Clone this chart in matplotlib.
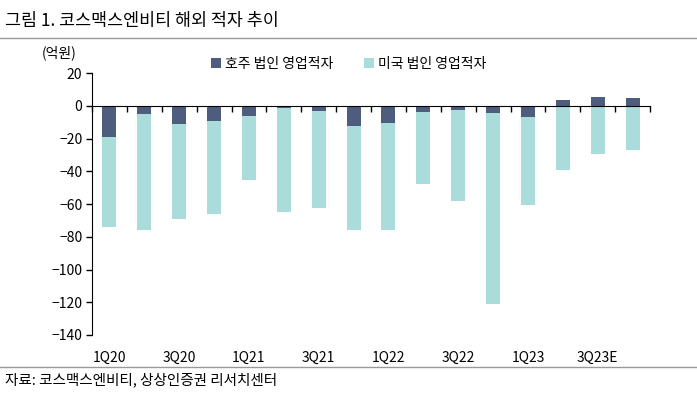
import matplotlib
matplotlib.use("Agg")
import numpy as np
from matplotlib import pyplot as plt
from matplotlib.lines import Line2D

plt.rcParams['font.family'] = ['Noto Sans CJK KR', 'DejaVu Sans']

quarters = ['1Q20', '2Q20', '3Q20', '4Q20', '1Q21', '2Q21', '3Q21', '4Q21',
            '1Q22', '2Q22', '3Q22', '4Q22', '1Q23', '2Q23', '3Q23E', '4Q23E']
australia = [-19, -5, -11, -9, -6, -1, -3, -12, -10.5, -3.7, -2.5, -4.3, -7, 3.9, 5.6, 4.7]
usa = [-54.7, -71, -58.3, -57, -39, -63.8, -59.6, -64, -65.6, -43.8, -55.5, -116.9,
       -53.5, -38.9, -29.6, -27.2]

dark = '#4e5d7d'
light = '#a9dcdb'

fig = plt.figure(figsize=(6.97, 3.97), dpi=100)
ax = fig.add_axes([0.132, 0.1562, 0.8006, 0.6592])

x = np.arange(len(quarters))
au = np.array(australia)
us = np.array(usa)
us_bottom = np.minimum(au, 0)

ax.bar(x, au, width=0.4, color=dark, label='호주 법인 영업적자', zorder=2)
ax.bar(x, us, width=0.4, bottom=us_bottom, color=light, label='미국 법인 영업적자', zorder=2)

ax.set_xlim(-0.5, len(quarters) - 0.5)
ax.set_ylim(-140, 20)
ax.set_yticks(np.arange(-140, 21, 20))
ax.tick_params(axis='y', direction='out', length=4, width=1, labelsize=10, pad=3)

# category axis sits on zero, labels at bottom
ax.spines['bottom'].set_position(('data', 0))
ax.spines['bottom'].set_zorder(3)
ax.spines['top'].set_visible(False)
ax.spines['right'].set_visible(False)
ax.set_xticks(np.arange(-0.5, len(quarters), 1))
ax.set_xticklabels([])
ax.tick_params(axis='x', direction='out', length=4, width=1)

for i in range(0, len(quarters), 2):
    ax.text(x[i], -0.06, quarters[i], transform=ax.get_xaxis_transform(),
            ha='center', va='top', fontsize=10)

ax.legend(loc='upper center', bbox_to_anchor=(0.46, 1.11), ncol=2, frameon=False,
          fontsize=10, handlelength=0.7, handleheight=0.7, handletextpad=0.3,
          columnspacing=2.2)

fig.text(0.007, 0.948, '그림 1. 코스맥스엔비티 해외 적자 추이', fontsize=12.5, va='center', ha='left')
fig.add_artist(Line2D([0, 1], [0.905, 0.905], transform=fig.transFigure, color='#999999', lw=1))
fig.text(0.06, 0.868, '(억원)', fontsize=10, va='center', ha='left')
fig.add_artist(Line2D([0, 1], [0.076, 0.076], transform=fig.transFigure, color='#999999', lw=1))
fig.text(0.007, 0.043, '자료: 코스맥스엔비티, 상상인증권 리서치센터', fontsize=10.5, va='center', ha='left')

fig.savefig('out.png', dpi=100)
